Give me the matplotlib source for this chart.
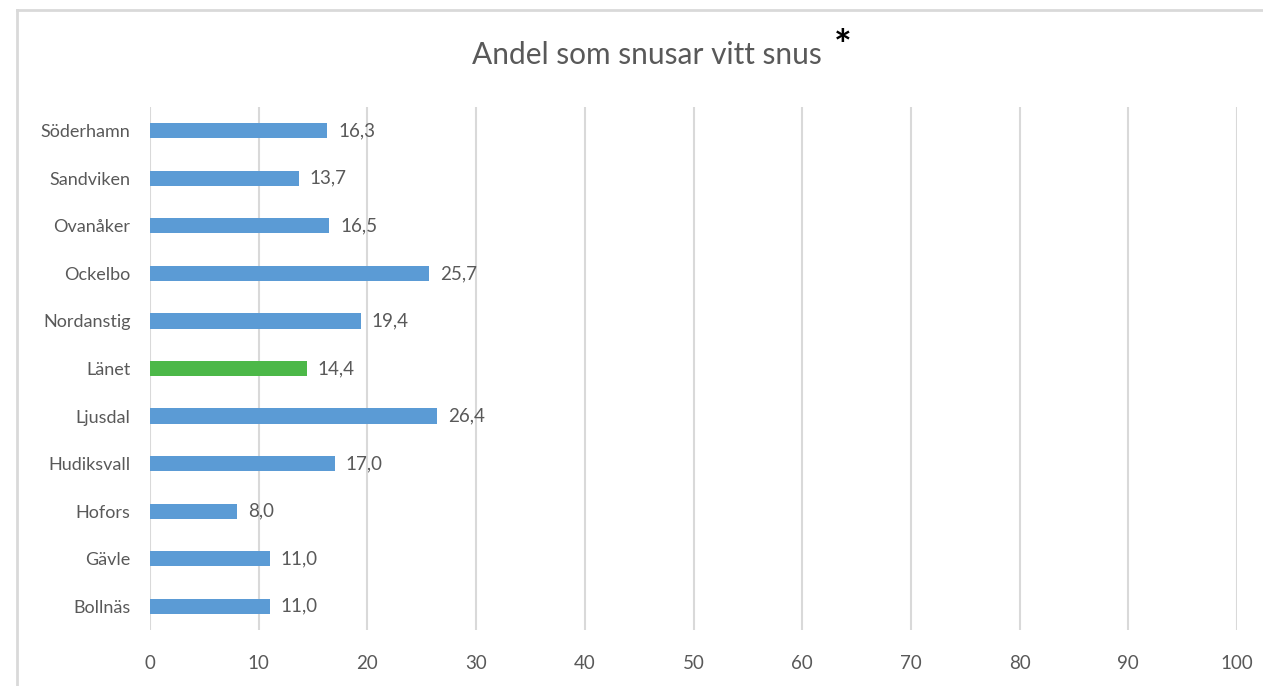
import matplotlib

matplotlib.use("Agg")
import matplotlib.pyplot as plt

# data, bottom to top as drawn
municipalities = ["Bollnäs", "Gävle", "Hofors", "Hudiksvall", "Ljusdal", "Länet",
                  "Nordanstig", "Ockelbo", "Ovanåker", "Sandviken", "Söderhamn"]
shares = [11.0, 11.0, 8.0, 17.0, 26.4, 14.4, 19.4, 25.7, 16.5, 13.7, 16.3]
x_ticks = [0, 10, 20, 30, 40, 50, 60, 70, 80, 90, 100]

BLUE = "#5B9BD5"
GREEN = "#4CB848"
TEXT = "#595959"
GRID = "#D9D9D9"

plt.rcParams["font.family"] = ["Lato", "DejaVu Sans"]

fig = plt.figure(figsize=(12.63, 6.86), dpi=100)
ax = fig.add_axes([150 / 1263, 1 - 630 / 686, 1087 / 1263, 523 / 686])

colors = [GREEN if m == "Länet" else BLUE for m in municipalities]
ypos = range(len(municipalities))
ax.barh(ypos, shares, height=0.32, color=colors, zorder=3)

for y, v in zip(ypos, shares):
    ax.text(v + 1.0, y, f"{v:.1f}".replace(".", ","), va="center", ha="left",
            fontsize=13.5, color=TEXT)

ax.set_xlim(0, 100)
ax.set_ylim(-0.5, len(municipalities) - 0.5)
ax.set_xticks(x_ticks)
ax.set_yticks(list(ypos))
ax.set_yticklabels(municipalities)
ax.tick_params(axis="x", length=0, pad=18, labelsize=13.5, labelcolor=TEXT)
ax.tick_params(axis="y", length=0, pad=14, labelsize=13, labelcolor=TEXT)
ax.grid(axis="x", color=GRID, linewidth=1.5, zorder=0)
for s in ax.spines.values():
    s.set_visible(False)

fig.text(647 / 1263, 1 - 55 / 686, "Andel som snusar vitt snus", ha="center",
         va="center", fontsize=21.5, color=TEXT)
fig.text(843 / 1263, 1 - 48 / 686, "*", ha="center", va="center",
         fontsize=30, fontweight="bold", color="black")

# chart border (top and left visible)
fig.add_artist(plt.Line2D([17 / 1263, 1], [1 - 10 / 686, 1 - 10 / 686],
                          transform=fig.transFigure, color=GRID, linewidth=2))
fig.add_artist(plt.Line2D([17 / 1263, 17 / 1263], [0, 1 - 10 / 686],
                          transform=fig.transFigure, color=GRID, linewidth=2))

fig.savefig("out.png", dpi=100)
